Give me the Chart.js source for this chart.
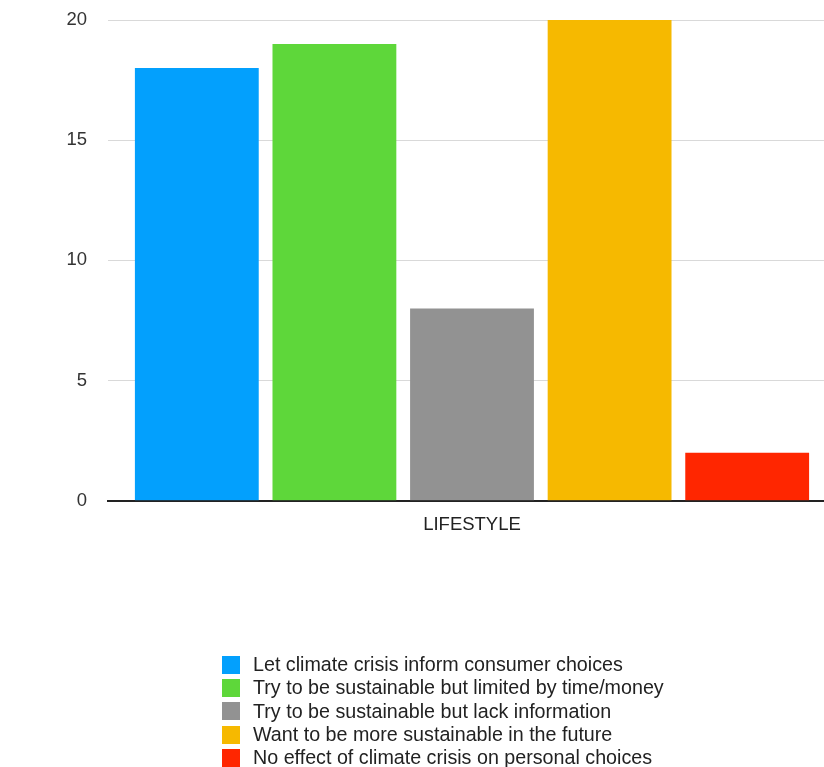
<!DOCTYPE html>
<html>
<head>
<meta charset="utf-8">
<script src="https://cdn.jsdelivr.net/npm/chart.js@4/dist/chart.umd.min.js"></script>
<style>
    html, body { margin: 0; padding: 0; background: #fff; overflow: hidden; }
    .wrap { position: relative; width: 840px; height: 767px; }
    .legend {
        position: absolute; left: 222px; top: 653px;
        font-family: 'Liberation Sans', Arial, sans-serif; font-size: 19.7px; color: #222;
    }
    .legend-item { display: flex; align-items: center; height: 23.3px; }
    .legend-box { width: 18px; height: 18px; margin-right: 13px; }
</style>
</head>
<body>
<div class="wrap">
    <canvas id="chart" width="840" height="767"></canvas>
    <div class="legend" id="legend"></div>
</div>
<script>
// Survey answers, single category
const categories = ['LIFESTYLE'];
const seriesNames = [
    'Let climate crisis inform consumer choices',
    'Try to be sustainable but limited by time/money',
    'Try to be sustainable but lack information',
    'Want to be more sustainable in the future',
    'No effect of climate crisis on personal choices'
];
const seriesValues = [18, 19, 8, 20, 2];
const seriesColors = ['#03a0fd', '#5ed73a', '#929292', '#f6b900', '#ff2600'];
const yTicks = [0, 5, 10, 15, 20];

const fontFamily = "'Liberation Sans', Arial, sans-serif";

const datasets = seriesNames.map((name, i) => ({
    label: name,
    data: [seriesValues[i]],
    backgroundColor: seriesColors[i],
    borderWidth: 0
}));

new Chart(document.getElementById('chart'), {
    type: 'bar',
    data: { labels: categories, datasets: datasets },
    options: {
        responsive: false,
        animation: false,
        categoryPercentage: 0.945,
        barPercentage: 0.9,
        layout: { padding: { top: 20, right: 4, bottom: 226, left: 0 } },
        plugins: {
            legend: { display: false },
            tooltip: { enabled: false }
        },
        scales: {
            x: {
                grid: { display: false },
                border: { display: true, color: '#222', width: 2 },
                ticks: { color: '#222', padding: 5, font: { family: fontFamily, size: 18.5 } }
            },
            y: {
                min: 0,
                max: 20,
                afterFit: scale => {
                    scale.width = 108;
                    scale.paddingTop = 0;
                    scale.paddingBottom = 0;
                },
                afterBuildTicks: scale => { scale.ticks = yTicks.map(v => ({ value: v })); },
                grid: { color: '#d9d9d9', lineWidth: 1, drawTicks: false },
                border: { display: false },
                ticks: { color: '#333', padding: 21, font: { family: fontFamily, size: 18.5 } }
            }
        }
    }
});

// Legend as a vertical list under the chart
document.getElementById('legend').innerHTML = seriesNames.map((name, i) => `
    <div class="legend-item">
        <div class="legend-box" style="background: ${seriesColors[i]};"></div>
        <span>${name}</span>
    </div>
`).join('');
</script>
</body>
</html>
